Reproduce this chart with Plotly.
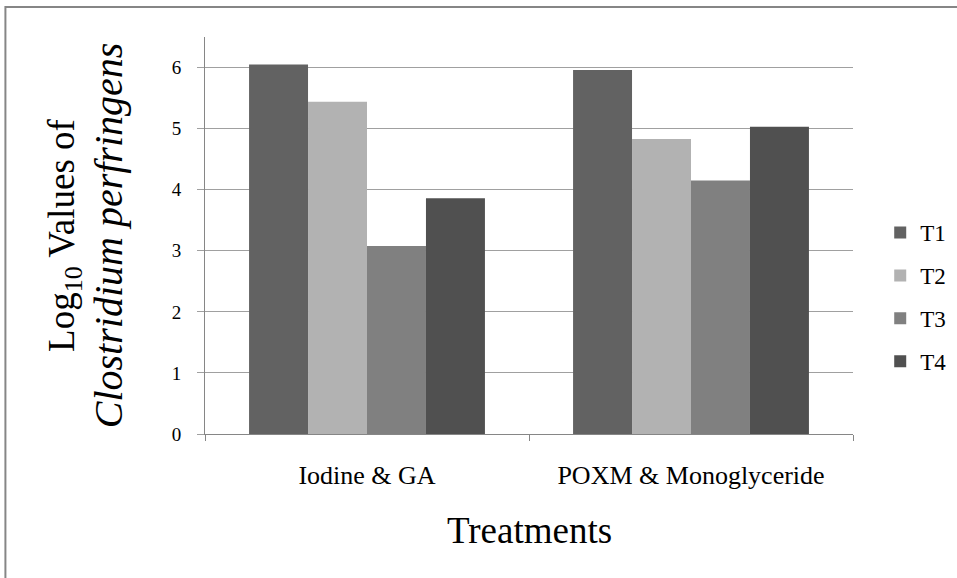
import plotly.graph_objects as go

# Treatment groups on the x axis and log10 counts per series
categories = ["Iodine & GA", "POXM & Monoglyceride"]
series_names = ["T1", "T2", "T3", "T4"]
t1 = [6.05, 5.96]
t2 = [5.44, 4.83]
t3 = [3.08, 4.15]
t4 = [3.86, 5.03]
series_values = [t1, t2, t3, t4]
y_ticks = [0, 1, 2, 3, 4, 5, 6]

colors = ["#626262", "#b2b2b2", "#808080", "#505050"]
FONT = "Liberation Serif"

fig = go.Figure()
for i, (name, vals) in enumerate(zip(series_names, series_values)):
    fig.add_trace(go.Bar(
        x=categories, y=vals, name=name,
        marker=dict(color=colors[i], line=dict(width=0)),
        legendgroup=name,
    ))

fig.update_layout(
    width=957, height=578,
    margin=dict(l=205, r=104, t=37, b=144, autoexpand=False),
    paper_bgcolor="white", plot_bgcolor="white",
    barmode="group", bargap=0.272, bargroupgap=0,
    font=dict(family=FONT, color="#000000", size=19),
    showlegend=True,
    legend=dict(
        x=1.042, y=0.345, xanchor="left", yanchor="middle",
        font=dict(family=FONT, size=23, color="#000000"),
        tracegroupgap=10, itemwidth=30,
        bgcolor="rgba(0,0,0,0)",
    ),
    xaxis=dict(
        type="category",
        tickson="boundaries", ticks="outside", ticklen=6, tickcolor="#868686",
        showline=True, linecolor="#868686", linewidth=1,
        tickfont=dict(family=FONT, size=26, color="#000000"),
        ticklabelstandoff=18,
        showgrid=False,
    ),
    yaxis=dict(
        range=[0, 6.5], tickvals=y_ticks,
        ticks="outside", ticklen=7, tickcolor="#a0a0a0",
        showline=True, linecolor="#868686", linewidth=1,
        showgrid=True, gridcolor="#a0a0a0", gridwidth=1.2,
        zeroline=False,
        tickfont=dict(family=FONT, size=19, color="#000000"),
        ticklabelstandoff=12,
    ),
    annotations=[
        dict(
            text=("Log<sub>10</sub> Values of<br>"
                  "<span style='font-size:40px'><i>Clostridium perfringens</i></span>"),
            xref="paper", yref="paper", x=-0.184, y=0.5,
            xanchor="center", yanchor="middle", textangle=-90,
            showarrow=False, font=dict(family=FONT, size=37, color="#000000"),
        ),
        dict(
            text="Treatments",
            xref="paper", yref="paper", x=0.5, y=-0.244,
            xanchor="center", yanchor="middle",
            showarrow=False, font=dict(family=FONT, size=37, color="#000000"),
        ),
    ],
    shapes=[
        dict(
            type="rect", xref="paper", yref="paper",
            x0=-0.308, x1=2.0, y0=-2.0, y1=1.0756,
            line=dict(color="#868686", width=2), fillcolor="rgba(0,0,0,0)",
            layer="below",
        )
    ],
)

fig.write_html("out.html")
